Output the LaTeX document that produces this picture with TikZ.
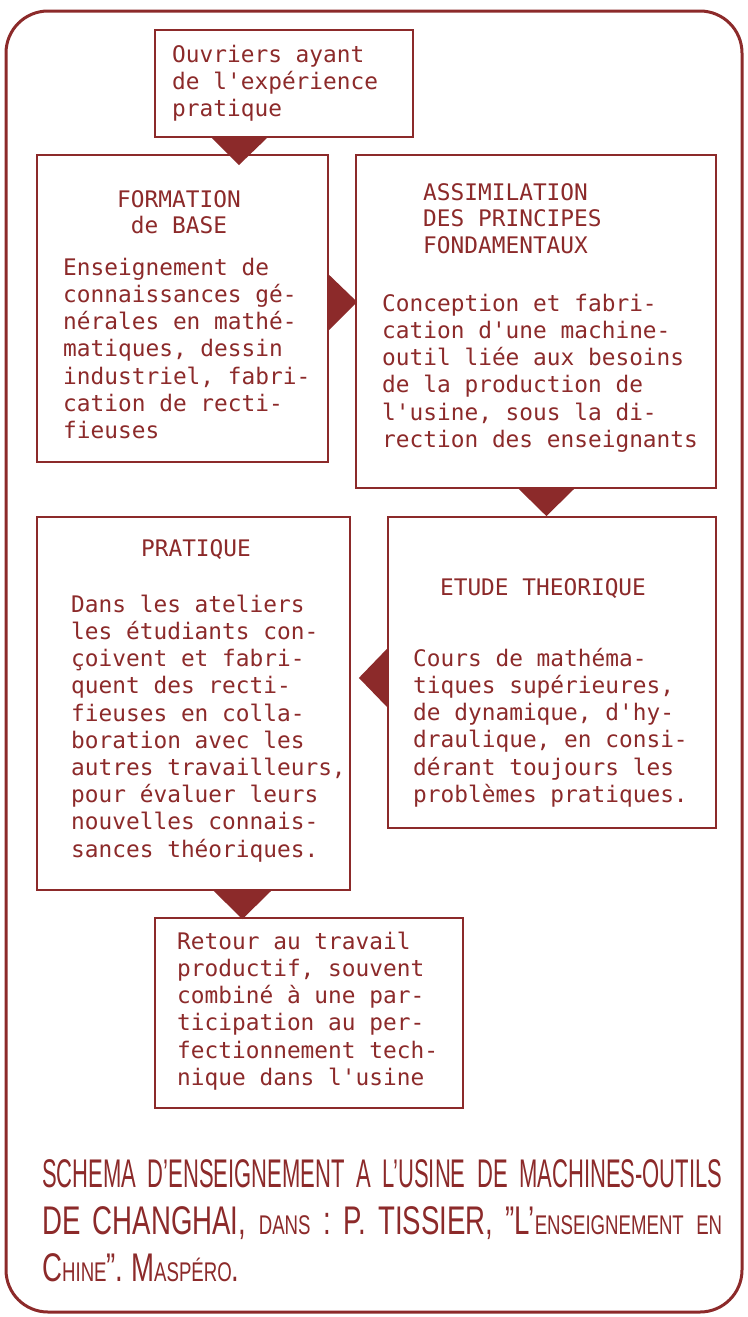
\documentclass[tikz,border=0pt]{standalone}
\usepackage{fontspec}
\usetikzlibrary{calc}
\newfontfamily\boxfont{DejaVu Sans Mono}
\newfontfamily\capfontA[FakeStretch=0.55]{Liberation Sans}
\newfontfamily\capfontB[FakeStretch=0.69]{Liberation Sans}
\definecolor{ink}{RGB}{140,42,42}
\newcommand\smc[1]{{\fontsize{27}{27}\selectfont #1}}
\newcommand\fl{\rule{0pt}{22pt}}
\newcommand\q{\textquotesingle}
\tikzset{
  box/.style={draw=ink, line width=2.2pt, rectangle, inner sep=0pt},
  txt/.style={anchor=north west, inner sep=0pt, align=left, text=ink,
    font=\boxfont\fontsize{22.8}{27.2}\selectfont},
  head/.style={anchor=north, inner sep=0pt, align=center, text=ink,
    font=\boxfont\fontsize{22.8}{26.5}\selectfont},
  tri/.style={fill=ink},
  capA/.style={anchor=base west, inner sep=0pt, text=ink,
    font=\capfontA\fontsize{40}{44}\selectfont},
  capB/.style={anchor=base west, inner sep=0pt, text=ink,
    font=\capfontB\fontsize{40}{44}\selectfont},
  frame/.style={draw=ink, line width=3pt, rounded corners=42pt}
}
\begin{document}
\begin{tikzpicture}[x=1pt,y=-1pt]
\useasboundingbox (0,0) rectangle (747,1317);
\fill[white] (0,0) rectangle (747,1317);
\draw[frame] (6,11) rectangle (742,1312);

% boxes
\node[box, minimum width=258pt, minimum height=107pt] (A) at (284,83.5) {};
\node[box, minimum width=291pt, minimum height=307pt] (B) at (182.5,308.5) {};
\node[box, minimum width=360pt, minimum height=333pt] (C) at (536,321.5) {};
\node[box, minimum width=313pt, minimum height=373pt] (D) at (193.5,703.5) {};
\node[box, minimum width=328pt, minimum height=311pt] (E) at (552,672.5) {};
\node[box, minimum width=308pt, minimum height=190pt] (F) at (309,1013) {};

% texts
\node[txt] (At) at (172,40) {\fl Ouvriers ayant\\de l\q exp\'erience\\pratique};

\node[head] (Bh) at (179,185) {\fl FORMATION\\de BASE};
\node[txt] (Bt) at (63,253) {\fl Enseignement de\\connaissances g\'e-\\n\'erales en math\'e-\\matiques, dessin\\industriel, fabri-\\cation de recti-\\fieuses};

\node[txt, font=\boxfont\fontsize{22.8}{26.6}\selectfont] (Ch) at (423,178) {\fl ASSIMILATION\\DES PRINCIPES\\FONDAMENTAUX};
\node[txt] (Ct) at (382,289) {\fl Conception et fabri-\\cation d\q une machine-\\outil li\'ee aux besoins\\de la production de\\l\q usine, sous la di-\\rection des enseignants};

\node[head] (Dh) at (196,534) {\fl PRATIQUE};
\node[txt] (Dt) at (71,590) {\fl Dans les ateliers\\les \'etudiants con-\\\c{c}oivent et fabri-\\quent des recti-\\fieuses en colla-\\boration avec les\\autres travailleurs,\\pour \'evaluer leurs\\nouvelles connais-\\sances th\'eoriques.};

\node[head] (Eh) at (543,573) {\fl ETUDE THEORIQUE};
\node[txt] (Et) at (413,644) {\fl Cours de math\'ema-\\tiques sup\'erieures,\\de dynamique, d\q hy-\\draulique, en consi-\\d\'erant toujours les\\probl\`emes pratiques.};

\node[txt] (Ft) at (177,927) {\fl Retour au travail\\productif, souvent\\combin\'e \`a une par-\\ticipation au per-\\fectionnement tech-\\nique dans l\q usine};

% arrowheads
\fill[tri] ($(A.south west)+(58,0)$) -- ($(A.south west)+(113,0)$) -- ($(A.south west)+(85,27)$) -- cycle;
\fill[tri] ($(B.north east)+(0,121)$) -- ($(B.north east)+(0,176)$) -- ($(B.north east)+(28,148)$) -- cycle;
\fill[tri] ($(C.south west)+(164,0)$) -- ($(C.south west)+(219,0)$) -- ($(C.south west)+(191.5,27)$) -- cycle;
\fill[tri] ($(E.north west)+(0,133)$) -- ($(E.north west)+(0,191)$) -- ($(E.north west)+(-28,162)$) -- cycle;
\fill[tri] ($(D.south west)+(178,0)$) -- ($(D.south west)+(235,0)$) -- ($(D.south west)+(206.5,28)$) -- cycle;

% caption
\node[capA] (cap1) at (42,1187) {\makebox[680pt][s]{SCHEMA D’ENSEIGNEMENT A L’USINE DE MACHINES-OUTILS}};
\node[capB] (cap2) at (42,1234) {\makebox[680pt][s]{DE CHANGHAI, \smc{DANS} : P. TISSIER, ”L’\smc{ENSEIGNEMENT} \smc{EN}}};
\node[capB] (cap3) at (42,1281) {C\smc{HINE}”. M\smc{ASP\'ERO}.};
\end{tikzpicture}
\end{document}
